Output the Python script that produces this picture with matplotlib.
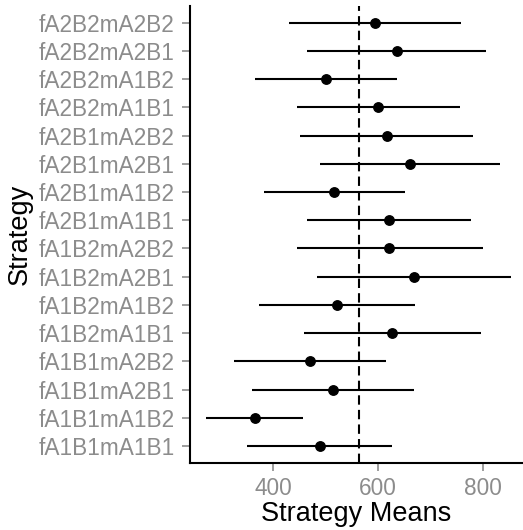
import numpy as np
import matplotlib.pyplot as plt

plt.rcParams['font.family'] = ['Liberation Sans', 'DejaVu Sans']

# Strategies, listed bottom to top
strategies = ["fA1B1mA1B1", "fA1B1mA1B2", "fA1B1mA2B1", "fA1B1mA2B2",
              "fA1B2mA1B1", "fA1B2mA1B2", "fA1B2mA2B1", "fA1B2mA2B2",
              "fA2B1mA1B1", "fA2B1mA1B2", "fA2B1mA2B1", "fA2B1mA2B2",
              "fA2B2mA1B1", "fA2B2mA1B2", "fA2B2mA2B1", "fA2B2mA2B2"]
means = [488, 364, 514, 470, 627, 522, 669, 621,
         620, 516, 660, 616, 600, 500, 635, 594]
lower = [350, 271, 360, 325, 459, 373, 483, 445,
         465, 383, 489, 451, 445, 365, 465, 430]
upper = [626, 457, 669, 614, 795, 670, 854, 800,
         777, 651, 833, 781, 756, 635, 806, 757]
grand_mean = 564

fig = plt.figure(figsize=(5.23, 5.30), dpi=100)
ax = fig.add_axes([190 / 523, 67 / 530, 333 / 523, 457.3 / 530])

y = np.arange(len(strategies))
ax.hlines(y, lower, upper, color='black', linewidth=1.5)
ax.plot(means, y, 'o', color='black', markersize=6.8)
ax.axvline(grand_mean, color='black', linewidth=1.5, linestyle=(0, (4.5, 2.5)))

ax.set_xlim(241, 876)
ax.set_ylim(-0.6, len(strategies) - 0.4)
ax.set_yticks(y)
ax.set_yticklabels(strategies)
ax.set_xticks([400, 600, 800])

for s in ['top', 'right']:
    ax.spines[s].set_visible(False)
for s in ['left', 'bottom']:
    ax.spines[s].set_linewidth(1.5)
    ax.spines[s].set_color('black')

ax.tick_params(axis='both', colors='#8c8c8c', labelsize=16.3, length=6,
               width=1.2, pad=4)
ax.tick_params(axis='y', pad=5)

ax.set_xlabel("Strategy Means", fontsize=19.5, color='black', labelpad=1)
ax.set_ylabel("Strategy", fontsize=19.5, color='black')
ax.yaxis.set_label_coords((33 - 190) / 333, 0.5)

fig.savefig("out.png", dpi=100)
